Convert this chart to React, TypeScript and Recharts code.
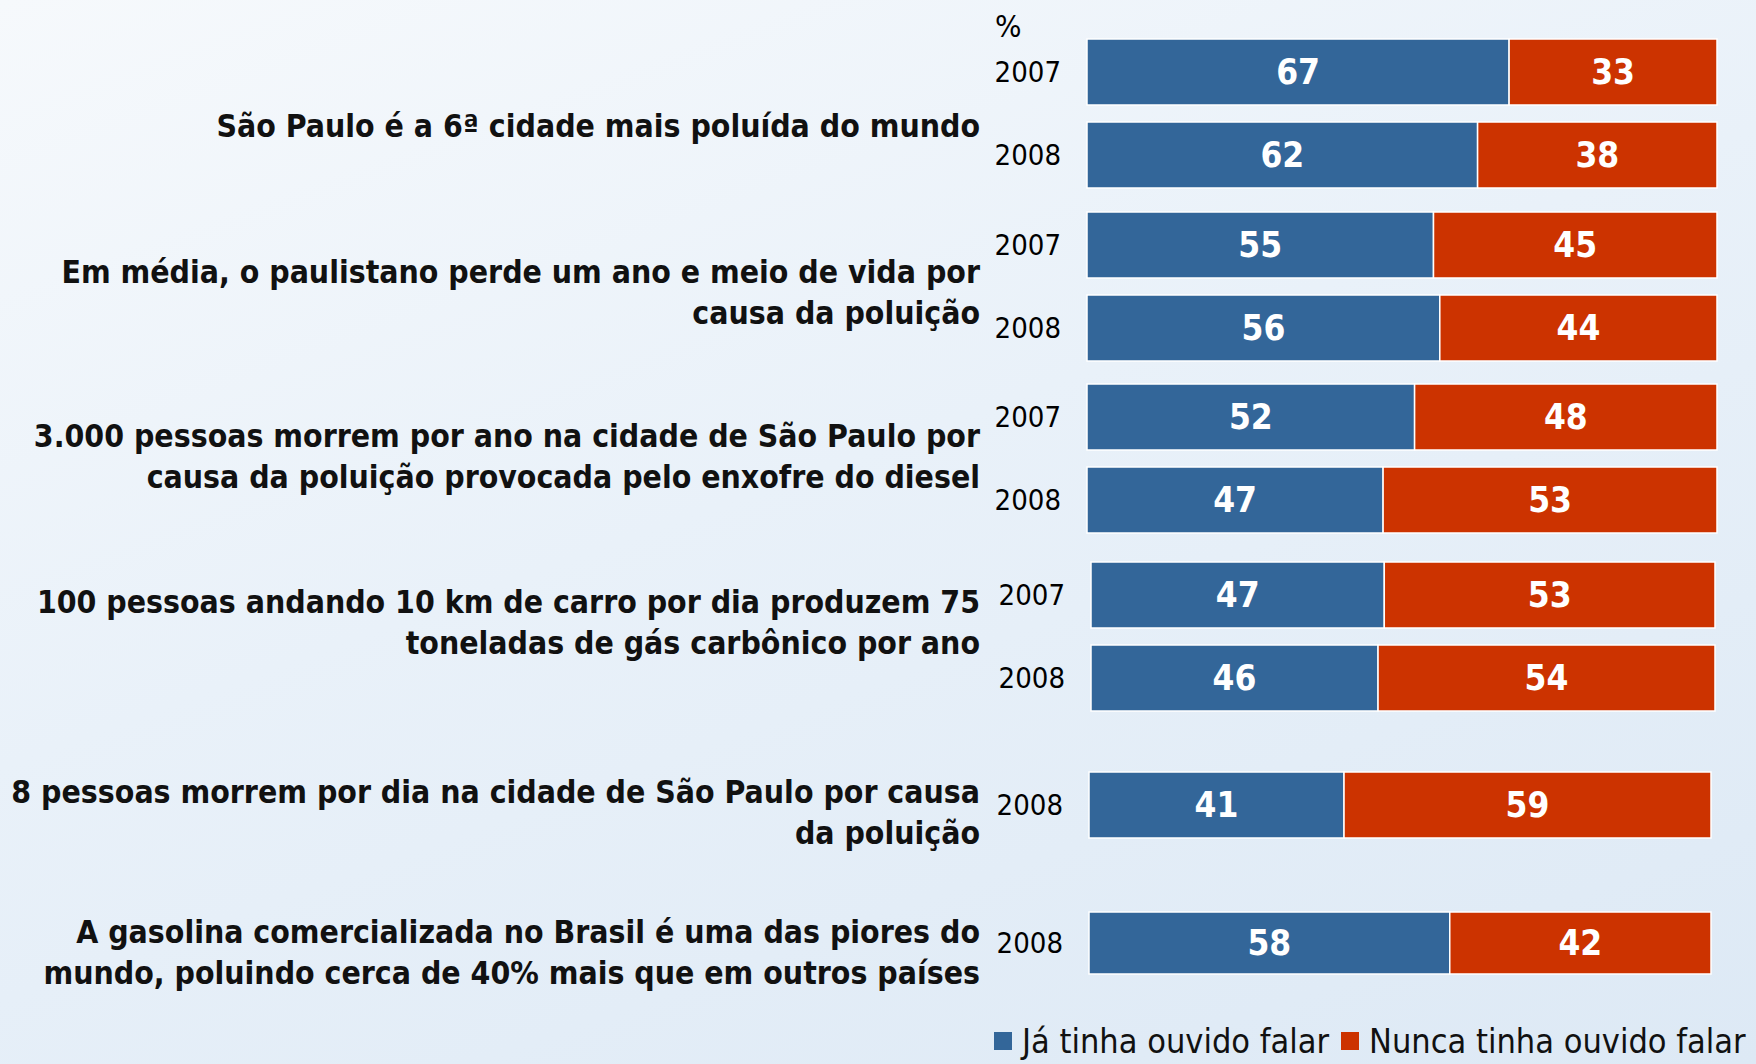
import { BarChart, Bar, XAxis, YAxis, LabelList } from "recharts"

const statements = [
  "São Paulo é a 6ª cidade mais poluída do mundo",
  "Em média, o paulistano perde um ano e meio de vida por\ncausa da poluição",
  "3.000 pessoas morrem por ano na cidade de São Paulo por\ncausa da poluição provocada pelo enxofre do diesel",
  "100 pessoas andando 10 km de carro por dia produzem 75\ntoneladas de gás carbônico por ano",
  "8 pessoas morrem por dia na cidade de São Paulo por causa\nda poluição",
  "A gasolina comercializada no Brasil é uma das piores do\nmundo, poluindo cerca de 40% mais que em outros países",
]

const rowGroup = [0, 0, 1, 1, 2, 2, 3, 3, 4, 5]
const rowYear = ["2007", "2008", "2007", "2008", "2007", "2008", "2007", "2008", "2008", "2008"]
const heardValues = [67, 62, 55, 56, 52, 47, 47, 46, 41, 58]
const neverValues = [33, 38, 45, 44, 48, 53, 53, 54, 59, 42]

const seriesNames = ["Já tinha ouvido falar", "Nunca tinha ouvido falar"]
const seriesColors = ["#336699", "#cc3300"]

// layout of each statement block
const groupTop = [30, 203, 375, 553, 763, 901]
const groupPlotLeft = [1087, 1087, 1087, 1091, 1089, 1089]
const groupPlotRight = [1717, 1717, 1717, 1715, 1711, 1711]
const labelCenter = [126, 293, 457, 623, 813, 953]
const groupBarSize = [66, 66, 66, 66, 66, 62]
const ROW_H = 83
const AXIS_W = 97

const COND = "'DejaVu Sans Condensed', 'DejaVu Sans', sans-serif"

function GroupChart({ group }: { group: number }) {
  const data = rowGroup
    .map((g, i) => ({ g, year: rowYear[i], heard: heardValues[i], never: neverValues[i] }))
    .filter((r) => r.g === group)
  const left = groupPlotLeft[group] - AXIS_W
  const plotW = groupPlotRight[group] - groupPlotLeft[group]

  return (
    <div style={{ position: "absolute", left, top: groupTop[group] }}>
      <BarChart
        width={AXIS_W + plotW + 4}
        height={data.length * ROW_H}
        data={data}
        layout="vertical"
        margin={{ top: 0, right: 4, bottom: 0, left: 0 }}
        barSize={groupBarSize[group]}
      >
        <XAxis type="number" domain={[0, 100]} hide />
        <YAxis
          type="category"
          dataKey="year"
          width={AXIS_W}
          axisLine={false}
          tickLine={false}
          tickMargin={20}
          tick={{ fill: "#000", fontSize: 29, fontFamily: COND }}
        />
        <Bar dataKey="heard" stackId="a" fill={seriesColors[0]} stroke="#fff" strokeWidth={1.5} isAnimationActive={false}>
          <LabelList dataKey="heard" position="center" fill="#fff" fontSize={35} fontWeight="bold" fontFamily={COND} />
        </Bar>
        <Bar dataKey="never" stackId="a" fill={seriesColors[1]} stroke="#fff" strokeWidth={1.5} isAnimationActive={false}>
          <LabelList dataKey="never" position="center" fill="#fff" fontSize={35} fontWeight="bold" fontFamily={COND} />
        </Bar>
      </BarChart>
    </div>
  )
}

export default function App() {
  return (
    <div
      style={{
        position: "relative",
        width: 1756,
        height: 1064,
        overflow: "hidden",
        background: "linear-gradient(160deg, #f6f9fc 0%, #e9f1f9 45%, #dde9f5 100%)",
      }}
    >
      <style>{"body{margin:0}"}</style>

      {statements.map((s, i) => (
        <div
          key={i}
          style={{
            position: "absolute",
            right: 776,
            top: labelCenter[i],
            transform: "translateY(-50%)",
            width: 1000,
            textAlign: "right",
            whiteSpace: "pre-line",
            fontFamily: COND,
            fontWeight: "bold",
            fontSize: 31.7,
            lineHeight: "41px",
            color: "#111",
          }}
        >
          {s}
        </div>
      ))}

      <div style={{ position: "absolute", left: 995, top: 8, fontFamily: COND, fontSize: 31 }}>%</div>

      {statements.map((_, i) => (
        <GroupChart key={i} group={i} />
      ))}

      <div
        style={{
          position: "absolute",
          left: 994,
          top: 1021,
          height: 40,
          display: "flex",
          alignItems: "center",
          fontFamily: COND,
          fontSize: 34,
          lineHeight: "40px",
          color: "#111",
          whiteSpace: "nowrap",
        }}
      >
        {seriesNames.map((n, i) => (
          <div key={n} style={{ display: "flex", alignItems: "center", marginRight: 12 }}>
            <span style={{ width: 18, height: 18, background: seriesColors[i], display: "inline-block", marginRight: 10 }} />
            {n}
          </div>
        ))}
      </div>
    </div>
  )
}
